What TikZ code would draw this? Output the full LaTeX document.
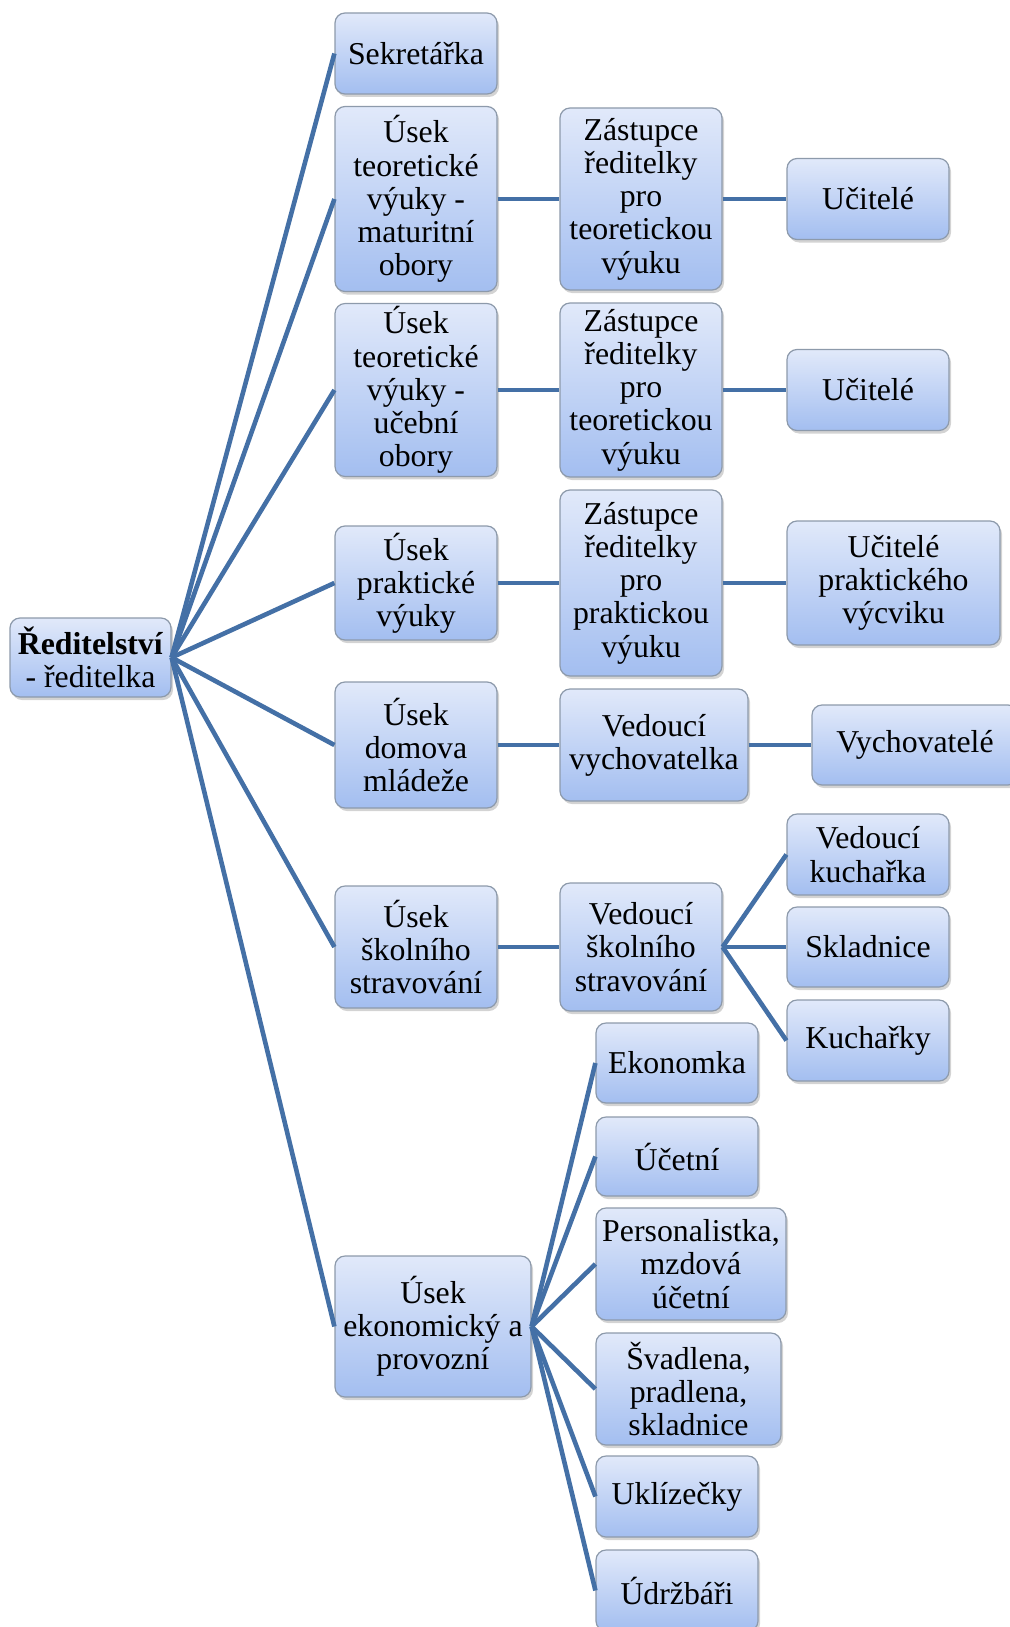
\documentclass[tikz,border=0pt]{standalone}
\usepackage{fontspec}
\setmainfont{Liberation Serif}
\usetikzlibrary{shadows}

\definecolor{boxtop}{HTML}{E1E9FA}
\definecolor{boxbottom}{HTML}{A3BEF0}
\definecolor{boxline}{HTML}{8D9AAB}
\definecolor{linkblue}{HTML}{4470A6}

\begin{document}
\begin{tikzpicture}[
x=1pt, y=-1pt,
box/.style={
draw=boxline,
line width=1.2pt,
rounded corners=10pt,
top color=boxtop,
bottom color=boxbottom,
drop shadow={shadow xshift=2pt, shadow yshift=-3pt, opacity=0.35},
align=center,
inner sep=3pt,
font=\fontsize{31.8}{33.2}\selectfont,
minimum width=162pt,
minimum height=81pt
},
link/.style={
draw=linkblue,
line width=4.6pt
}
]

\useasboundingbox (0,0) rectangle (1009,1627);

% first level
\node[box, minimum width=161pt, minimum height=79pt] (R) at (90.5,657.5)
{\textbf{Ředitelství}\\- ředitelka};

% second level
\node[box] (S) at (416,53.5)
{Sekretářka};

\node[box, minimum height=185pt] (TM) at (416,199)
{Úsek\\teoretické\\výuky -\\maturitní\\obory};

\node[box, minimum height=166pt] (TU) at (416,390)
{Úsek\\teoretické\\výuky -\\učební\\obory};

\node[box, minimum height=114pt] (PV) at (416,583)
{Úsek\\praktické\\výuky};

\node[box, minimum height=126pt] (DM) at (416,745)
{Úsek\\domova\\mládeže};

\node[box, minimum height=122pt] (SS) at (416,947)
{Úsek\\školního\\stravování};

\node[box, minimum width=196pt, minimum height=141pt] (EP) at (433,1326.5)
{Úsek\\ekonomický a\\provozní};

% third level
\node[box, minimum height=182pt] (Z1) at (641,199)
{Zástupce\\ředitelky\\pro\\teoretickou\\výuku};

\node[box, minimum height=174pt] (Z2) at (641,390)
{Zástupce\\ředitelky\\pro\\teoretickou\\výuku};

\node[box, minimum height=186pt] (Z3) at (641,583)
{Zástupce\\ředitelky\\pro\\praktickou\\výuku};

\node[box, minimum width=188pt, minimum height=112pt] (VV) at (654,745)
{Vedoucí\\vychovatelka};

\node[box, minimum height=128pt] (VS) at (641,947)
{Vedoucí\\školního\\stravování};

\node[box, minimum height=80pt] (Ek) at (677,1063)
{Ekonomka};

\node[box, minimum height=79pt] (Uc) at (677,1156.5)
{Účetní};

\node[box, minimum width=190pt, minimum height=112pt] (Pe) at (691,1264)
{Personalistka,\\mzdová\\účetní};

\node[box, minimum width=185pt, minimum height=112pt] (Sv) at (688.5,1389)
{Švadlena,\\pradlena,\\skladnice};

\node[box] (Uk) at (677,1496.5)
{Uklízečky};

\node[box] (Ud) at (677,1590.5)
{Údržbáři};

% fourth level
\node[box] (U1) at (868,199)
{Učitelé};

\node[box] (U2) at (868,390)
{Učitelé};

\node[box, minimum width=213pt, minimum height=124pt] (UP) at (893.5,583)
{Učitelé\\praktického\\výcviku};

\node[box, minimum width=206pt, minimum height=80pt] (Vy) at (915,745)
{Vychovatelé};

\node[box] (VK) at (868,854.5)
{Vedoucí\\kuchařka};

\node[box, minimum height=80pt] (Sk) at (868,947)
{Skladnice};

\node[box] (Ku) at (868,1040.5)
{Kuchařky};

% connections
\draw[link] (R.east) -- (S.west);
\draw[link] (R.east) -- (TM.west);
\draw[link] (R.east) -- (TU.west);
\draw[link] (R.east) -- (PV.west);
\draw[link] (R.east) -- (DM.west);
\draw[link] (R.east) -- (SS.west);
\draw[link] (R.east) -- (EP.west);

\draw[link] (TM.east) -- (Z1.west);
\draw[link] (TU.east) -- (Z2.west);
\draw[link] (PV.east) -- (Z3.west);
\draw[link] (DM.east) -- (VV.west);
\draw[link] (SS.east) -- (VS.west);

\draw[link] (Z1.east) -- (U1.west);
\draw[link] (Z2.east) -- (U2.west);
\draw[link] (Z3.east) -- (UP.west);
\draw[link] (VV.east) -- (Vy.west);

\draw[link] (VS.east) -- (VK.west);
\draw[link] (VS.east) -- (Sk.west);
\draw[link] (VS.east) -- (Ku.west);

\draw[link] (EP.east) -- (Ek.west);
\draw[link] (EP.east) -- (Uc.west);
\draw[link] (EP.east) -- (Pe.west);
\draw[link] (EP.east) -- (Sv.west);
\draw[link] (EP.east) -- (Uk.west);
\draw[link] (EP.east) -- (Ud.west);

\end{tikzpicture}
\end{document}
